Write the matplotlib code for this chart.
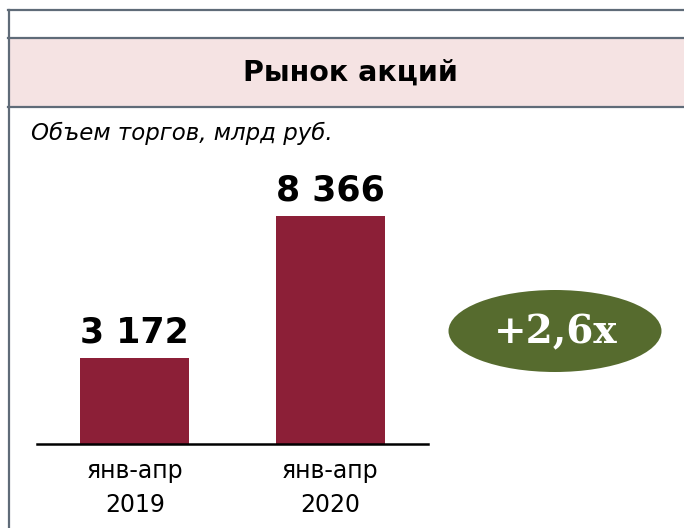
import matplotlib.pyplot as plt
from matplotlib.patches import Rectangle, Ellipse
from matplotlib.lines import Line2D

# Data
periods = ['янв-апр\n2019', 'янв-апр\n2020']
volumes = [3172, 8366]
value_labels = ['3 172', '8 366']
title = 'Рынок акций'
subtitle = 'Объем торгов, млрд руб.'
growth = '+2,6x'

W, H = 684, 528
fig = plt.figure(figsize=(W / 100, H / 100), dpi=100)

def fx(px):
    return px / W

def fy(py):
    return 1 - py / H

# frame and title band
border = '#5f6b78'
fig.patches.append(Rectangle((fx(8), fy(107)), 1 - fx(8), fy(38) - fy(107),
                             transform=fig.transFigure, facecolor='#f5e3e3',
                             edgecolor='none', zorder=0))
for y in (10, 38, 107):
    fig.lines.append(Line2D([fx(8), 1], [fy(y), fy(y)], transform=fig.transFigure,
                            color=border, lw=1.6))
fig.lines.append(Line2D([fx(8.5), fx(8.5)], [fy(10), 0], transform=fig.transFigure,
                        color=border, lw=1.6))

fig.text(fx(350), fy(73), title, ha='center', va='center', fontsize=20.5,
         fontweight='bold', family='DejaVu Sans')
fig.text(fx(31), fy(133), subtitle, ha='left', va='center', fontsize=16.5,
         style='italic', family='DejaVu Sans')

# bars
ax = fig.add_axes([fx(37), fy(444), fx(428) - fx(37), fy(150) - fy(444)])
x = range(len(volumes))
bars = ax.bar(x, volumes, width=0.556, color='#8c1f37')
for b, lab in zip(bars, value_labels):
    ax.annotate(lab, (b.get_x() + b.get_width() / 2, b.get_height()),
                xytext=(0, 6), textcoords='offset points', ha='center', va='bottom',
                fontsize=25, fontweight='bold')
ax.set_xlim(-0.5, 1.5)
ax.set_ylim(0, 10800)
ax.set_yticks([])
ax.set_xticks(list(x))
ax.set_xticklabels(periods, fontsize=17, linespacing=1.5)
ax.tick_params(axis='x', length=0, pad=11)
for s in ('top', 'right', 'left'):
    ax.spines[s].set_visible(False)
ax.spines['bottom'].set_linewidth(1.8)
ax.spines['bottom'].set_color('black')

# growth badge
fig.patches.append(Ellipse((fx(555), fy(331)), fx(213), 82 / H,
                           transform=fig.transFigure, facecolor='#566b2e',
                           edgecolor='none'))
fig.text(fx(556), fy(332), growth, ha='center', va='center', fontsize=28,
         fontweight='bold', family='DejaVu Serif', color='white')

plt.savefig('out.png', dpi=100)
